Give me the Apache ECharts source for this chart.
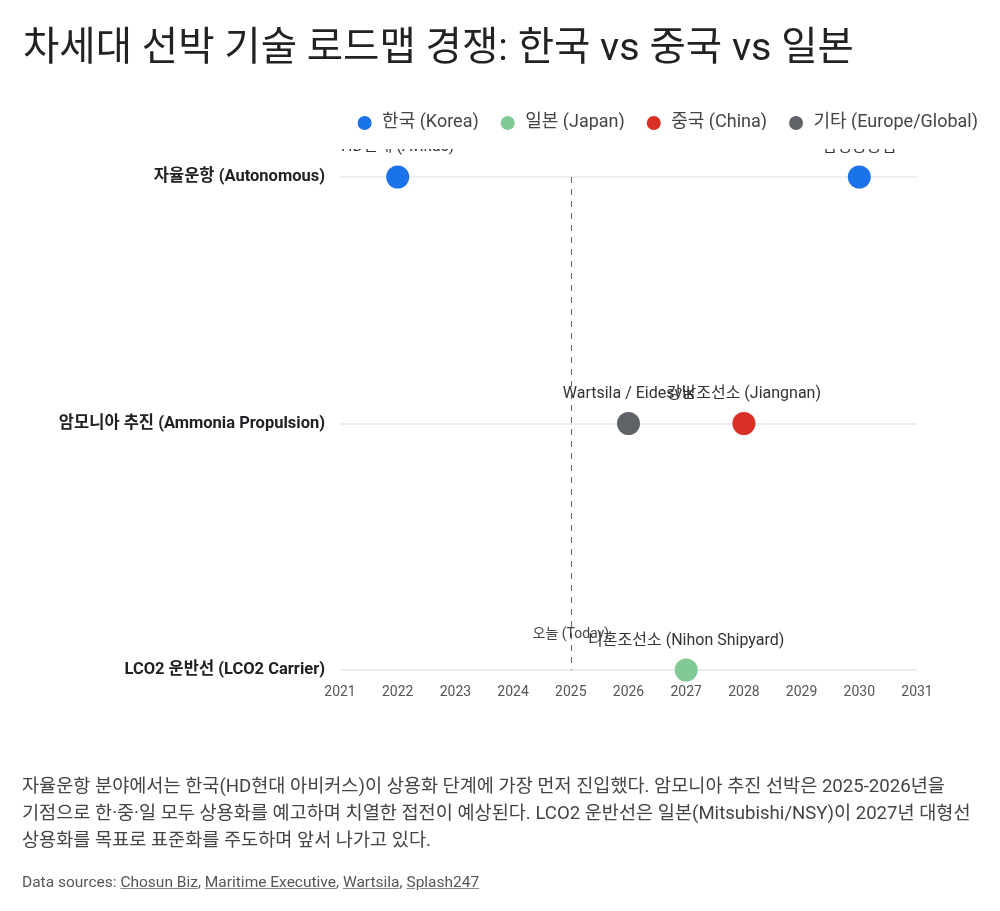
<!DOCTYPE html>
<html>
<head>
<meta charset="utf-8">
<script src="https://cdn.jsdelivr.net/npm/echarts@6/dist/echarts.min.js"></script>
<style>
  html, body { margin: 0; padding: 0; background: #fff; }
  #chart { width: 1000px; height: 911px; }
  .note {
    position: absolute; left: 22px; top: 773px; width: 975px;
    font-family: Roboto, "Noto Sans CJK KR", sans-serif;
    font-size: 18.6px; line-height: 27px; color: #444;
    white-space: nowrap;
  }
  .src {
    position: absolute; left: 22px; top: 873px;
    font-family: Roboto, "Noto Sans CJK KR", sans-serif;
    font-size: 15.5px; color: #555;
  }
  .src u { text-decoration-color: #888; }
</style>
</head>
<body>
<div id="chart"></div>
<div class="note">자율운항 분야에서는 한국(HD현대 아비커스)이 상용화 단계에 가장 먼저 진입했다. 암모니아 추진 선박은 2025-2026년을<br>기점으로 한·중·일 모두 상용화를 예고하며 치열한 접전이 예상된다. LCO2 운반선은 일본(Mitsubishi/NSY)이 2027년 대형선<br>상용화를 목표로 표준화를 주도하며 앞서 나가고 있다.</div>
<div class="src">Data sources: <u>Chosun Biz</u>, <u>Maritime Executive</u>, <u>Wartsila</u>, <u>Splash247</u></div>
<script>
// 기술 분야 (y축)
const categories = ['자율운항 (Autonomous)', '암모니아 추진 (Ammonia Propulsion)', 'LCO2 운반선 (LCO2 Carrier)']
const years = [2021, 2031]
const todayYear = 2025

// 국가별 포인트: [연도, 분야, 라벨]
const koreaPoints = [
  [2022, categories[0], 'HD현대 (Avikus)'],
  [2030, categories[0], '삼성중공업']
]
const japanPoints = [
  [2027, categories[2], '니혼조선소 (Nihon Shipyard)']
]
const chinaPoints = [
  [2028, categories[1], '강남조선소 (Jiangnan)']
]
const otherPoints = [
  [2026, categories[1], 'Wartsila / Eidesvik']
]

const font = 'Roboto, "Noto Sans CJK KR", sans-serif'

function makeSeries(name, color, points) {
  return {
    name: name,
    type: 'scatter',
    symbolSize: 23,
    itemStyle: { color: color, opacity: 1 },
    label: {
      show: true,
      position: 'top',
      distance: 10,
      formatter: p => p.data[2],
      color: '#333',
      fontSize: 16,
      fontFamily: font
    },
    data: points
  }
}

const chart = echarts.init(document.getElementById('chart'))

const series = [
  makeSeries('한국 (Korea)', '#1a73e8', koreaPoints),
  makeSeries('일본 (Japan)', '#81c995', japanPoints),
  makeSeries('중국 (China)', '#d93025', chinaPoints),
  makeSeries('기타 (Europe/Global)', '#5f6368', otherPoints)
]

// 오늘 기준선
series[0].markLine = {
  silent: true,
  symbol: 'none',
  label: { show: false },
  lineStyle: { color: '#666', type: [6, 6], width: 1 },
  data: [{ xAxis: todayYear }]
}
series[0].markPoint = {
  silent: true,
  symbol: 'circle',
  symbolSize: 1,
  itemStyle: { color: 'rgba(0,0,0,0)' },
  label: {
    show: true,
    position: 'top',
    distance: 28,
    formatter: '오늘 (Today)',
    color: '#444',
    fontSize: 14,
    fontFamily: font
  },
  data: [{ coord: [todayYear, categories[2]] }]
}

const option = {
  animation: false,
  textStyle: { fontFamily: font },
  title: {
    text: '차세대 선박 기술 로드맵 경쟁: 한국 vs 중국 vs 일본',
    left: 18,
    top: 25,
    textStyle: { fontSize: 39.5, fontWeight: 'normal', color: '#222', fontFamily: font }
  },
  legend: {
    top: 109,
    right: 17,
    icon: 'circle',
    itemWidth: 25,
    itemHeight: 14,
    itemGap: 22,
    textStyle: { fontSize: 18, color: '#444', fontFamily: font }
  },
  grid: { left: 340, right: 83, top: 177, bottom: 241 },
  xAxis: {
    type: 'value',
    min: years[0],
    max: years[1],
    interval: 1,
    axisLine: { show: false },
    axisTick: { show: false },
    splitLine: { show: false },
    axisLabel: { color: '#555', fontSize: 14, margin: 15, fontFamily: font, formatter: v => String(v) }
  },
  yAxis: {
    type: 'category',
    data: categories,
    inverse: true,
    boundaryGap: false,
    axisLine: { show: false },
    axisTick: { show: false },
    splitLine: { show: true, lineStyle: { color: '#e5e7eb', width: 1.5 } },
    axisLabel: { color: '#202124', fontSize: 16.5, fontWeight: 'bold', margin: 15, fontFamily: font }
  },
  graphic: [{
    type: 'rect',
    left: 0,
    top: 130,
    z: 100,
    shape: { width: 1000, height: 19 },
    style: { fill: '#fff' }
  }],
  series: series
}

chart.setOption(option)
</script>
</body>
</html>
